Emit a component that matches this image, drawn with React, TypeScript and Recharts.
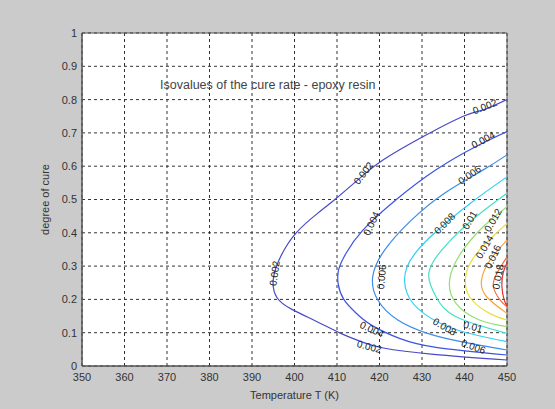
import React from 'react';
import { ComposedChart, Line, Scatter, XAxis, YAxis, CartesianGrid, ReferenceArea } from 'recharts';

const xTicks = [350, 360, 370, 380, 390, 400, 410, 420, 430, 440, 450];
const yTicks = [0, 0.1, 0.2, 0.3, 0.4, 0.5, 0.6, 0.7, 0.8, 0.9, 1];

const c002 = [
  { T: 450, c: 0.80 }, { T: 444.4, c: 0.769 }, { T: 439.7, c: 0.75 }, { T: 430.3, c: 0.689 },
  { T: 420.9, c: 0.619 }, { T: 414.9, c: 0.559 }, { T: 409.5, c: 0.5 }, { T: 405.5, c: 0.459 },
  { T: 400.4, c: 0.4 }, { T: 396.8, c: 0.33 }, { T: 395, c: 0.26 }, { T: 395.9, c: 0.205 },
  { T: 399.4, c: 0.17 }, { T: 405.3, c: 0.133 }, { T: 410.9, c: 0.098 }, { T: 415.9, c: 0.072 },
  { T: 420.9, c: 0.054 }, { T: 432.7, c: 0.035 }, { T: 450, c: 0.018 },
];
const c004 = [
  { T: 450, c: 0.704 }, { T: 442.7, c: 0.659 }, { T: 433.3, c: 0.589 }, { T: 423.9, c: 0.499 },
  { T: 416.1, c: 0.408 }, { T: 412.2, c: 0.34 }, { T: 410.4, c: 0.29 }, { T: 410.3, c: 0.245 },
  { T: 411.6, c: 0.2 }, { T: 414.4, c: 0.16 }, { T: 418.2, c: 0.122 }, { T: 424.7, c: 0.083 },
  { T: 433.3, c: 0.056 }, { T: 450, c: 0.033 },
];
const c006 = [
  { T: 450, c: 0.634 }, { T: 444.4, c: 0.589 }, { T: 435.3, c: 0.519 }, { T: 427.5, c: 0.438 },
  { T: 421.2, c: 0.348 }, { T: 418.4, c: 0.268 }, { T: 419.6, c: 0.198 }, { T: 424.3, c: 0.138 },
  { T: 431.3, c: 0.098 }, { T: 439.2, c: 0.073 }, { T: 450, c: 0.048 },
];
const c008 = [
  { T: 450, c: 0.568 }, { T: 441.4, c: 0.489 }, { T: 432, c: 0.388 }, { T: 426.5, c: 0.298 },
  { T: 426.5, c: 0.218 }, { T: 430.4, c: 0.158 }, { T: 438.3, c: 0.108 }, { T: 450, c: 0.073 },
];
const c010 = [
  { T: 450, c: 0.519 }, { T: 442.7, c: 0.448 }, { T: 435.3, c: 0.358 }, { T: 431.6, c: 0.278 },
  { T: 433.3, c: 0.208 }, { T: 438, c: 0.148 }, { T: 450, c: 0.098 },
];
const c012 = [
  { T: 450, c: 0.478 }, { T: 444.4, c: 0.418 }, { T: 439.1, c: 0.338 }, { T: 436.5, c: 0.258 },
  { T: 438, c: 0.188 }, { T: 443.5, c: 0.138 }, { T: 450, c: 0.118 },
];
const c014 = [
  { T: 450, c: 0.428 }, { T: 443.5, c: 0.348 }, { T: 440.4, c: 0.278 }, { T: 441.2, c: 0.208 },
  { T: 445.9, c: 0.158 }, { T: 450, c: 0.138 },
];
const c016 = [
  { T: 450, c: 0.378 }, { T: 446, c: 0.318 }, { T: 444, c: 0.258 }, { T: 445.2, c: 0.208 },
  { T: 450, c: 0.158 },
];
const c018 = [
  { T: 450, c: 0.328 }, { T: 447.6, c: 0.278 }, { T: 446.8, c: 0.238 }, { T: 448.4, c: 0.198 },
  { T: 450, c: 0.178 },
];
const c020 = [
  { T: 450, c: 0.31 }, { T: 449.1, c: 0.28 }, { T: 448.8, c: 0.24 }, { T: 449.3, c: 0.2 },
  { T: 450, c: 0.18 },
];

const contours = [
  { level: '0.002', data: c002, color: '#4848c8' },
  { level: '0.004', data: c004, color: '#3c54e0' },
  { level: '0.006', data: c006, color: '#3c8ce8' },
  { level: '0.008', data: c008, color: '#30d0f0' },
  { level: '0.01', data: c010, color: '#40e0c8' },
  { level: '0.012', data: c012, color: '#90e070' },
  { level: '0.014', data: c014, color: '#e8e040' },
  { level: '0.016', data: c016, color: '#f6a640' },
  { level: '0.018', data: c018, color: '#f07040' },
  { level: '0.02', data: c020, color: '#e03030' },
];

const contourLabels = [
  { T: 444.8, c: 0.779, text: '0.002', angle: -22 },
  { T: 416.2, c: 0.579, text: '0.002', angle: -52 },
  { T: 395.3, c: 0.278, text: '0.002', angle: -82 },
  { T: 417.6, c: 0.058, text: '0.002', angle: 15 },
  { T: 444.4, c: 0.679, text: '0.004', angle: -28 },
  { T: 418.1, c: 0.428, text: '0.004', angle: -65 },
  { T: 418.2, c: 0.11, text: '0.004', angle: 25 },
  { T: 441.2, c: 0.574, text: '0.006', angle: -35 },
  { T: 420.5, c: 0.268, text: '0.006', angle: -85 },
  { T: 442.1, c: 0.058, text: '0.006', angle: 20 },
  { T: 435.3, c: 0.428, text: '0.008', angle: -45 },
  { T: 435.3, c: 0.118, text: '0.008', angle: 30 },
  { T: 441.2, c: 0.438, text: '0.01', angle: -60 },
  { T: 442, c: 0.118, text: '0.01', angle: 15 },
  { T: 446.7, c: 0.438, text: '0.012', angle: -60 },
  { T: 444.7, c: 0.358, text: '0.014', angle: -60 },
  { T: 446.7, c: 0.328, text: '0.016', angle: -65 },
  { T: 447.9, c: 0.268, text: '0.018', angle: -80 },
];

const titleText = 'Isovalues of the cure rate - epoxy resin';
const xLabel = 'Temperature T (K)';
const yLabel = 'degree of cure';

const FONT = '"Liberation Sans", Arial, sans-serif';

const renderLabel = (props: any) => {
  const { cx, cy, payload } = props;
  if (cx == null || cy == null) return <g />;
  return (
    <text
      x={cx}
      y={cy}
      transform={`rotate(${payload.angle} ${cx} ${cy})`}
      textAnchor="middle"
      dominantBaseline="central"
      fontSize={10}
      fontFamily={FONT}
      fill="#222"
    >
      {payload.text}
    </text>
  );
};

export default function App() {
  return (
    <div style={{ position: 'absolute', left: 0, top: 0, width: 555, height: 409, background: '#cbcbcb', fontFamily: FONT }}>
      <ComposedChart width={555} height={409} margin={{ top: 33, right: 48, bottom: 0, left: 0 }}>
        <CartesianGrid
          fill="#ffffff"
          stroke="#333"
          strokeDasharray="3 3"
          horizontalValues={yTicks}
          verticalValues={xTicks}
        />
        <XAxis
          type="number"
          dataKey="T"
          domain={[350, 450]}
          ticks={xTicks}
          allowDataOverflow
          height={43}
          tickLine={false}
          tickSize={3}
          tickMargin={4}
          axisLine={{ stroke: '#555' }}
          tick={{ fontSize: 11, fill: '#333', fontFamily: FONT }}
          label={{ value: xLabel, position: 'insideBottom', offset: 10, style: { fontSize: 11, fill: '#333', fontFamily: FONT } }}
        />
        <YAxis
          type="number"
          dataKey="c"
          domain={[0, 1]}
          ticks={yTicks}
          allowDataOverflow
          width={82}
          tickLine={false}
          tickSize={2}
          tickMargin={3}
          axisLine={{ stroke: '#555' }}
          tick={{ fontSize: 11, fill: '#333', fontFamily: FONT }}
          label={{ value: yLabel, angle: -90, position: 'insideLeft', offset: 45, style: { textAnchor: 'middle', fontSize: 11, fill: '#333', fontFamily: FONT } }}
        />
        {contours.map((ct) => (
          <Line
            key={ct.level}
            data={ct.data}
            dataKey="c"
            type="natural"
            stroke={ct.color}
            strokeWidth={1.2}
            dot={false}
            activeDot={false}
            isAnimationActive={false}
          />
        ))}
        <Scatter data={contourLabels} dataKey="c" shape={renderLabel} isAnimationActive={false} />
        <ReferenceArea x1={350} x2={450} y1={0} y2={1} fill="none" stroke="#555" strokeWidth={1} ifOverflow="visible" />
      </ComposedChart>
      <div
        style={{
          position: 'absolute',
          left: 160,
          top: 78,
          fontSize: 12.5,
          color: '#444',
          whiteSpace: 'nowrap',
          fontFamily: FONT,
          lineHeight: '14px',
        }}
      >
        {titleText}
      </div>
    </div>
  );
}
